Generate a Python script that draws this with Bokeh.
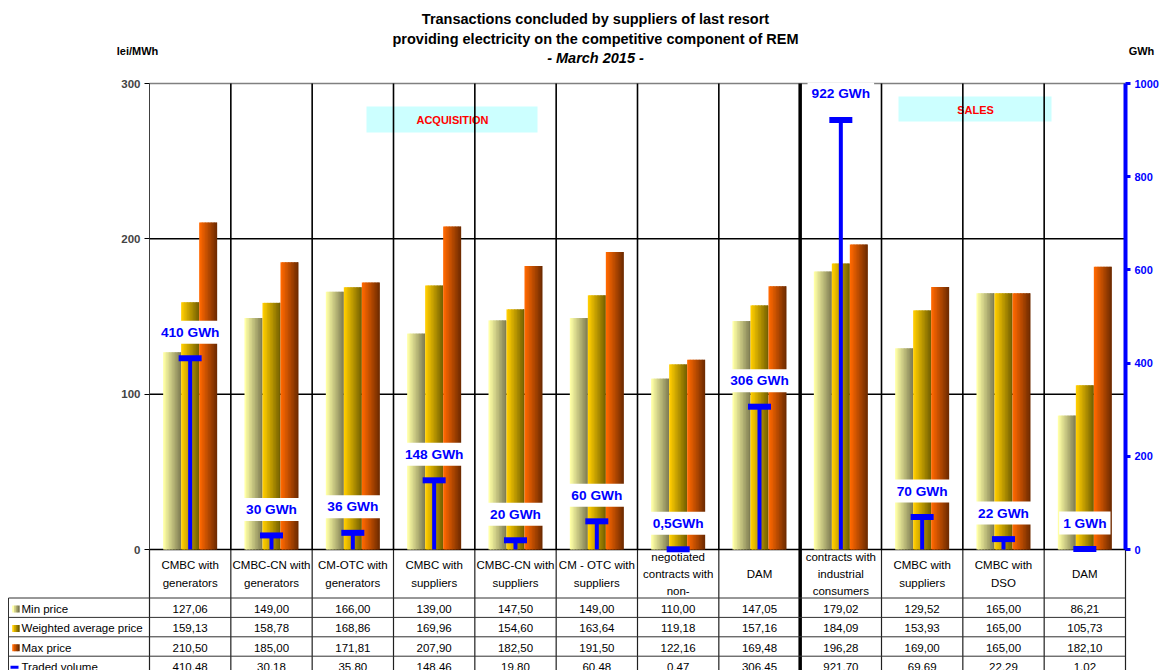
import numpy as np
from bokeh.plotting import figure
from bokeh.models import Range1d, LinearAxis, FixedTicker
from bokeh.embed import file_html
from bokeh.resources import INLINE
from bokeh.core.properties import value

# ---------------- data ----------------
categories = ["CMBC with\ngenerators", "CMBC-CN with\ngenerators", "CM-OTC with\ngenerators",
              "CMBC with\nsuppliers", "CMBC-CN with\nsuppliers", "CM - OTC with\nsuppliers",
              "negotiated\ncontracts with\nnon-", "DAM", "contracts with\nindustrial\nconsumers",
              "CMBC with\nsuppliers", "CMBC with\nDSO", "DAM"]
min_price = [127.06, 149.00, 166.00, 139.00, 147.50, 149.00, 110.00, 147.05, 179.02, 129.52, 165.00, 86.21]
avg_price = [159.13, 158.78, 168.86, 169.96, 154.60, 163.64, 119.18, 157.16, 184.09, 153.93, 165.00, 105.73]
max_price = [210.50, 185.00, 171.81, 207.90, 182.50, 191.50, 122.16, 169.48, 196.28, 169.00, 165.00, 182.10]
traded_volume = [410.48, 30.18, 35.80, 148.46, 19.80, 60.48, 0.47, 306.45, 921.70, 69.69, 22.29, 1.02]
volume_labels = ["410 GWh", "30 GWh", "36 GWh", "148 GWh", "20 GWh", "60 GWh", "0,5GWh",
                 "306 GWh", "922 GWh", "70 GWh", "22 GWh", "1 GWh"]
series_names = ["Min price", "Weighted average price", "Max price", "Traded volume"]
price_ticks = [0, 100, 200, 300]
volume_ticks = [0, 200, 400, 600, 800, 1000]
title_lines = ["Transactions concluded by suppliers of last resort",
               "providing electricity on the competitive component of REM",
               "- March 2015 -"]
section_labels = ["ACQUISITION", "SALES"]

# ---------------- layout constants ----------------
WIDTH, HEIGHT = 1162, 670
PL, PR, PT, PB = 149, 1125, 83, 549
N = len(categories)
COLW = (PR - PL) / N
PY = (PB - PT) / price_ticks[-1]
VY = (PB - PT) / volume_ticks[-1]
FONT = value("Liberation Sans")
BLUE = "#0000FF"

p = figure(width=WIDTH, height=HEIGHT,
           x_range=Range1d(-PL / COLW, N + (WIDTH - PR) / COLW),
           y_range=Range1d(-(HEIGHT - PB) / PY, price_ticks[-1] + PT / PY),
           output_backend="svg", toolbar_location=None,
           x_axis_location=None, y_axis_location=None, min_border=0)
p.outline_line_color = None
p.background_fill_color = "white"
p.extra_y_ranges = {"vol": Range1d(-(HEIGHT - PB) / VY, volume_ticks[-1] + PT / VY),
                    "py": Range1d(HEIGHT, 0)}
p.extra_x_ranges = {"px": Range1d(0, WIDTH)}
for g in p.grid:
    g.visible = False

# ---------------- section boxes ----------------
p.quad(left=[366, 898], right=[537, 1051], top=[106, 96], bottom=[132, 121],
       x_range_name="px", y_range_name="py", fill_color="#CCFFFF", line_color=None)
p.text(x=[452, 975], y=[119, 109], text=section_labels, x_range_name="px", y_range_name="py",
       text_align="center", text_baseline="middle", text_font=FONT, text_font_style="bold",
       text_font_size="11px", text_color="#FF0000")

# ---------------- grid lines ----------------
gt = price_ticks[1:]
p.segment(x0=0, x1=N, y0=gt, y1=gt,
          line_color=["black"] * (len(gt) - 1) + ["#808080"], line_width=1.5)
seps = list(range(1, N))
p.segment(x0=seps, x1=seps, y0=PT, y1=PB, y_range_name="py",
          line_color="black", line_width=[3.5 if s == 8 else 1.6 for s in seps])
p.segment(x0=list(range(0, N + 1)), x1=list(range(0, N + 1)), y0=PB, y1=HEIGHT, y_range_name="py",
          line_color=["#202020"] * 8 + ["black"] + ["#202020"] * 4,
          line_width=[1.2] * 8 + [3.5] + [1.2] * 4)
p.segment(x0=0, x1=N, y0=0, y1=0, line_color="black", line_width=1.5)

# ---------------- bars with horizontal gradient ----------------
def grad(c0, c1, n):
    return ["#%02x%02x%02x" % tuple(int(round(a + (b - a) * t)) for a, b in zip(c0, c1))
            for t in np.linspace(0, 1, n)]

BW = 18 / COLW
NS = 12
series = [(min_price, (255, 255, 165), (128, 126, 84)),
          (avg_price, (255, 205, 0), (118, 98, 0)),
          (max_price, (255, 104, 0), (112, 44, 0))]
for si, (vals, c0, c1) in enumerate(series):
    cols = grad(c0, c1, NS)
    xs, tops, fills = [], [], []
    for i, v in enumerate(vals):
        left = i + 0.5 + (si - 1) * BW - BW / 2
        for k in range(NS):
            xs.append(left + (k + 0.5) * BW / NS + (0.3 * BW / NS if k < NS - 1 else 0))
            tops.append(v)
            fills.append(cols[k])
    widths = []
    for i in range(len(vals)):
        widths += [BW / NS * 1.6] * (NS - 1) + [BW / NS]
    p.vbar(x=xs, top=tops, bottom=0, width=widths, fill_color=fills, line_color=None)

# ---------------- traded volume ----------------
xc = [i + 0.5 for i in range(N)]
p.segment(x0=xc, y0=0, x1=xc, y1=traded_volume, y_range_name="vol", line_color=BLUE, line_width=4)
p.rect(x=xc, y=traded_volume, width=23, height=6, width_units="screen", height_units="screen",
       y_range_name="vol", fill_color=BLUE, line_color=None)
p.text(x=xc, y=traded_volume, text=volume_labels, y_range_name="vol", y_offset=-26,
       text_align="center", text_baseline="middle", text_font=FONT, text_font_style="bold",
       text_font_size="13.7px", text_color=BLUE, background_fill_color="white", padding=4)

# ---------------- axes ----------------
yaxis = LinearAxis(fixed_location=0, bounds=(0, price_ticks[-1]), ticker=FixedTicker(ticks=price_ticks))
yaxis.axis_line_color = "#404040"
yaxis.major_tick_out = 5
yaxis.major_tick_in = 0
yaxis.minor_tick_out = 0
yaxis.minor_tick_in = 0
yaxis.major_label_text_font = "Liberation Sans"
yaxis.major_label_text_font_style = "bold"
yaxis.major_label_text_font_size = "11.5px"
yaxis.major_label_standoff = 4
p.add_layout(yaxis, "left")

vaxis = LinearAxis(y_range_name="vol", fixed_location=N, bounds=(0, volume_ticks[-1]),
                   ticker=FixedTicker(ticks=volume_ticks))
vaxis.axis_line_color = BLUE
vaxis.axis_line_width = 4
vaxis.major_tick_line_color = BLUE
vaxis.major_tick_line_width = 3
vaxis.major_tick_out = 5
vaxis.major_tick_in = 0
vaxis.minor_tick_out = 0
vaxis.minor_tick_in = 0
vaxis.major_label_text_color = BLUE
vaxis.major_label_text_font = "Liberation Sans"
vaxis.major_label_text_font_style = "bold"
vaxis.major_label_text_font_size = "11px"
vaxis.major_label_standoff = 4
p.add_layout(vaxis, "right")

# ---------------- titles ----------------
p.text(x=[595, 595], y=[18, 38], text=title_lines[:2], x_range_name="px", y_range_name="py",
       text_align="center", text_baseline="middle", text_font=FONT, text_font_style="bold",
       text_font_size="14.5px", text_color="black")
p.text(x=[595], y=[57], text=title_lines[2:], x_range_name="px", y_range_name="py",
       text_align="center", text_baseline="middle", text_font=FONT, text_font_style="bold italic",
       text_font_size="14.5px", text_color="black")
p.text(x=[137, 1141], y=[50, 50], text=["lei/MWh", "GWh"], x_range_name="px", y_range_name="py",
       text_align="center", text_baseline="middle", text_font=FONT, text_font_style="bold",
       text_font_size="11px", text_color="black")

# ---------------- table ----------------
ROW0, ROWH = 597.5, 19.4
nrows = len(series_names)
row_lines = [ROW0 + ROWH * r for r in range(nrows)]
p.segment(x0=8, x1=PR, y0=row_lines, y1=row_lines, x_range_name="px", y_range_name="py",
          line_color="#303030", line_width=1)
p.segment(x0=[8], x1=[8], y0=[ROW0], y1=[HEIGHT], x_range_name="px", y_range_name="py",
          line_color="#303030", line_width=1)

p.text(x=xc, y=[573.5] * N, text=categories, y_range_name="py",
       text_align="center", text_baseline="middle", text_font=FONT, text_font_size="11.5px",
       text_line_height=1.45, text_color="black")

rows = [min_price, avg_price, max_price, traded_volume]
tx, ty, tt = [], [], []
for r, vals in enumerate(rows):
    for i, v in enumerate(vals):
        tx.append(i + 0.5)
        ty.append(ROW0 + 11 + ROWH * r)
        tt.append(f"{v:.2f}".replace(".", ","))
p.text(x=tx, y=ty, text=tt, y_range_name="py", text_align="center", text_baseline="middle",
       text_font=FONT, text_font_size="11.5px", text_color="black")

hy = [ROW0 + 11 + ROWH * r for r in range(nrows)]
p.text(x=[21] * nrows, y=hy, text=series_names, x_range_name="px", y_range_name="py",
       text_align="left", text_baseline="middle", text_font=FONT, text_font_size="11.5px",
       text_color="black")

# legend markers
mx, my, mc = [], [], []
for r, (_, c0, c1) in enumerate(series):
    cols = grad(c0, c1, 4)
    for k in range(4):
        mx.append(12 + 1.75 * (k + 0.5))
        my.append(hy[r])
        mc.append(cols[k])
p.rect(x=mx, y=my, width=2.2, height=7, x_range_name="px", y_range_name="py",
       fill_color=mc, line_color=None)
p.rect(x=[14], y=[hy[3]], width=8, height=3, x_range_name="px", y_range_name="py",
       fill_color=BLUE, line_color=None)

open("out.html", "w").write(file_html(p, INLINE))
